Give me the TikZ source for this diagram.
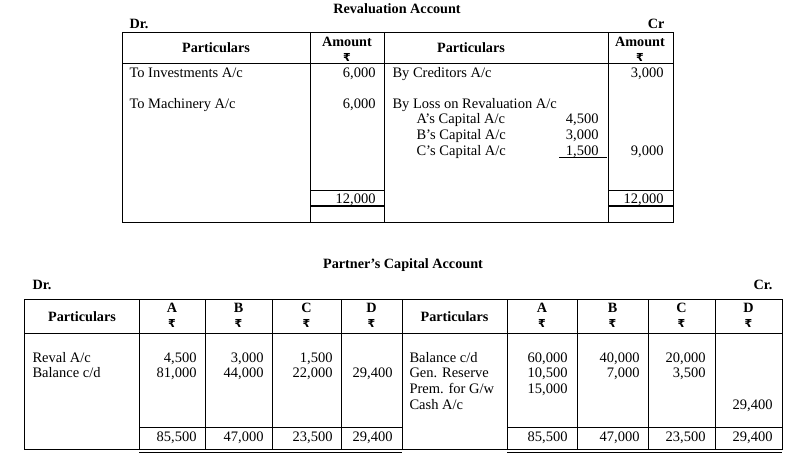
\documentclass[tikz,border=0pt]{standalone}
\usepackage{fontspec}
\setmainfont{Liberation Serif}
\newfontfamily\rupeefont{DejaVu Sans}
\newcommand{\Rs}{{\rupeefont\bfseries\fontsize{11}{11}\selectfont ₹}}

\begin{document}
\begin{tikzpicture}[x=1pt,y=-1pt,line width=1pt,
  txt/.style={inner sep=0pt,font=\fontsize{14.5}{16}\selectfont},
  lft/.style={txt,anchor=base west},
  rgt/.style={txt,anchor=base east},
  hd/.style={inner sep=0pt,anchor=base,font=\fontsize{14.2}{16}\selectfont\bfseries},
  rs/.style={inner sep=0pt}]
\useasboundingbox (0,0) rectangle (789,461);

% Revaluation Account
\node[hd] (rvtitle) at (397,13) {Revaluation Account};
\node[hd,anchor=base west] (rvdr) at (129,28) {Dr.};
\node[hd,anchor=base east] (rvcr) at (665,28) {Cr};

\draw (122,32) rectangle (673,222);
\draw (122,63) -- (673,63);
\draw (310,32) -- (310,222);
\draw (384,32) -- (384,222);
\draw (608,32) -- (608,222);
\draw (310,190) -- (384,190);
\draw (608,190) -- (673,190);
\draw[line width=2pt] (310,206) -- (384,206);
\draw[line width=2pt] (608,206) -- (673,206);
\draw (559,157) -- (607,157);

\node[hd] (rvpl) at (216,52) {Particulars};
\node[hd] (rvamtl) at (347,46) {Amount};
\node[rs] (rvrsl) at (347,57) {\Rs};
\node[hd] (rvpr) at (471,52) {Particulars};
\node[hd] (rvamtr) at (640,46) {Amount};
\node[rs] (rvrsr) at (640,57) {\Rs};

\node[lft] (rvinv) at (129,77) {To Investments A/c};
\node[rgt] (rvinvamt) at (376,77) {6,000};
\node[lft] (rvmach) at (129,108) {To Machinery A/c};
\node[rgt] (rvmachamt) at (376,108) {6,000};
\node[rgt] (rvtotl) at (376,203) {12,000};

\node[lft] (rvcred) at (392,77) {By Creditors A/c};
\node[rgt] (rvcredamt) at (664,77) {3,000};
\node[lft] (rvloss) at (392,108) {By Loss on Revaluation A/c};
\node[lft] (rvacap) at (416,123) {A’s Capital A/c};
\node[lft] (rvbcap) at (416,139) {B’s Capital A/c};
\node[lft] (rvccap) at (416,155) {C’s Capital A/c};
\node[rgt] (rvaamt) at (599,123) {4,500};
\node[rgt] (rvbamt) at (599,139) {3,000};
\node[rgt] (rvcamt) at (599,155) {1,500};
\node[rgt] (rvlossamt) at (664,155) {9,000};
\node[rgt] (rvtotr) at (664,203) {12,000};

% Partner's Capital Account
\node[hd] (pctitle) at (403,268) {Partner’s Capital Account};
\node[hd,anchor=base west] (pcdr) at (32,289) {Dr.};
\node[hd,anchor=base east] (pccr) at (773,289) {Cr.};

\draw (24,299) rectangle (782,449);
\draw (24,333) -- (782,333);
\draw (139,299) -- (139,449);
\draw (205,299) -- (205,449);
\draw (272,299) -- (272,449);
\draw (341,299) -- (341,449);
\draw (402,299) -- (402,449);
\draw (507,299) -- (507,449);
\draw (577,299) -- (577,449);
\draw (648,299) -- (648,449);
\draw (715,299) -- (715,449);
\draw (139,427) -- (402,427);
\draw (507,427) -- (782,427);
\draw (139,452.5) -- (402,452.5);
\draw (507,452.5) -- (782,452.5);

\node[hd] (pcpl) at (82,321) {Particulars};
\node[hd] (pcal) at (172,312) {A};
\node[hd] (pcbl) at (238.5,312) {B};
\node[hd] (pccl) at (306.5,312) {C};
\node[hd] (pcdl) at (371.5,312) {D};
\node[rs] (pcrsal) at (172,323) {\Rs};
\node[rs] (pcrsbl) at (238.5,323) {\Rs};
\node[rs] (pcrscl) at (306.5,323) {\Rs};
\node[rs] (pcrsdl) at (371.5,323) {\Rs};
\node[hd] (pcpr) at (454.5,321) {Particulars};
\node[hd] (pcar) at (542,312) {A};
\node[hd] (pcbr) at (612.5,312) {B};
\node[hd] (pccr2) at (681.5,312) {C};
\node[hd] (pcdr2) at (748.5,312) {D};
\node[rs] (pcrsar) at (542,323) {\Rs};
\node[rs] (pcrsbr) at (612.5,323) {\Rs};
\node[rs] (pcrscr) at (681.5,323) {\Rs};
\node[rs] (pcrsdr) at (748.5,323) {\Rs};

\node[lft] (pcreval) at (32,362) {Reval A/c};
\node[lft] (pcbalcd) at (32,377) {Balance c/d};
\node[rgt] (pcrevala) at (197,362) {4,500};
\node[rgt] (pcrevalb) at (264,362) {3,000};
\node[rgt] (pcrevalc) at (333,362) {1,500};
\node[rgt] (pcbala) at (197,377) {81,000};
\node[rgt] (pcbalb) at (264,377) {44,000};
\node[rgt] (pcbalc) at (333,377) {22,000};
\node[rgt] (pcbald) at (393,377) {29,400};
\node[rgt] (pctotal) at (197,441) {85,500};
\node[rgt] (pctotbl) at (264,441) {47,000};
\node[rgt] (pctotcl) at (333,441) {23,500};
\node[rgt] (pctotdl) at (393,441) {29,400};

\node[lft] (pcbalbd) at (409,362) {Balance c/d};
\node[lft] (pcgen) at (409,377) {Gen. Reserve};
\node[lft] (pcprem) at (409,393) {Prem. for G/w};
\node[lft] (pccash) at (409,409) {Cash A/c};
\node[rgt] (pcbda) at (568,362) {60,000};
\node[rgt] (pcbdb) at (640,362) {40,000};
\node[rgt] (pcbdc) at (706,362) {20,000};
\node[rgt] (pcgena) at (568,377) {10,500};
\node[rgt] (pcgenb) at (640,377) {7,000};
\node[rgt] (pcgenc) at (706,377) {3,500};
\node[rgt] (pcprema) at (568,393) {15,000};
\node[rgt] (pccashd) at (773,409) {29,400};
\node[rgt] (pctotar) at (568,441) {85,500};
\node[rgt] (pctotbr) at (640,441) {47,000};
\node[rgt] (pctotcr) at (706,441) {23,500};
\node[rgt] (pctotdr) at (773,441) {29,400};

\end{tikzpicture}
\end{document}
